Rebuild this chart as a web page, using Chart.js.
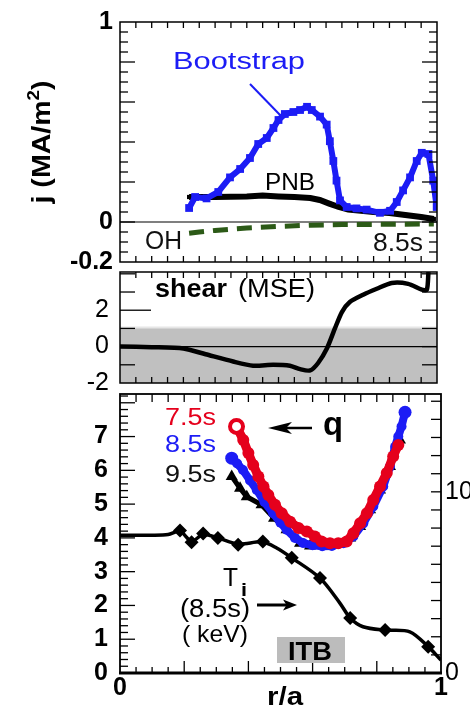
<!DOCTYPE html>
<html><head><meta charset="utf-8">
<script src="https://cdn.jsdelivr.net/npm/chart.js@4.4.0/dist/chart.umd.min.js"></script>
<style>
html,body{margin:0;padding:0;background:#fff;}
#wrap{position:relative;width:470px;height:705px;overflow:hidden;background:#fff;}
.pane{position:absolute;left:0;top:0;width:470px;height:705px;}
</style></head><body>
<div id="wrap">
<div class="pane"><canvas id="c3"></canvas></div>
<div class="pane"><canvas id="c2"></canvas></div>
<div class="pane"><canvas id="c1"></canvas></div>
</div>
<script>
// ---------- data ----------
// top panel: current density j (MA/m^2) vs r/a, 8.5 s
const bootR = [0.218,0.237,0.273,0.31,0.347,0.379,0.41,0.436,0.463,0.484,0.5,0.52,0.547,0.568,0.59,0.605,0.631,0.652,0.662,0.673,0.683,0.694,0.715,0.746,0.778,0.82,0.852,0.873,0.893,0.915,0.936,0.952,0.973,0.988,0.999];
const bootJ = [0.07,0.125,0.118,0.15,0.223,0.265,0.32,0.39,0.42,0.47,0.51,0.54,0.55,0.56,0.576,0.56,0.527,0.487,0.404,0.305,0.207,0.108,0.075,0.068,0.062,0.046,0.056,0.1,0.158,0.223,0.305,0.346,0.34,0.207,0.075];
const pnbR = [0.218,0.3,0.4,0.45,0.5,0.55,0.6,0.63,0.66,0.69,0.72,0.76,0.8,0.85,0.9,0.95,0.99];
const pnbJ = [0.125,0.125,0.128,0.132,0.128,0.125,0.12,0.11,0.092,0.075,0.062,0.056,0.05,0.045,0.035,0.025,0.015];
const ohR = [0.218,0.25,0.3,0.35,0.4,0.5,0.6,0.7,0.8,0.9,0.99];
const ohJ = [-0.056,-0.05,-0.042,-0.036,-0.03,-0.022,-0.016,-0.013,-0.012,-0.011,-0.01];
const jTicks = [-0.2, 0, 1];

// middle panel: magnetic shear (MSE)
const shearR = [0,0.1,0.2,0.27,0.357,0.42,0.483,0.536,0.568,0.6,0.625,0.653,0.678,0.70,0.725,0.767,0.81,0.857,0.909,0.952,0.968,0.973];
const shearV = [0,-0.03,-0.1,-0.42,-0.82,-1.05,-1.0,-1.05,-1.24,-1.31,-0.9,-0.09,1.0,1.9,2.45,2.85,3.18,3.5,3.45,3.13,3.13,4.1];
const bandR = [0, 1];
const bandTop = [1.05, 1.05];
const zeroR = [0, 1];
const zeroV = [0, 0];
const shearTicks = [-2, 0, 2];

// bottom panel: q profiles and Ti
const q75R = [0.363,0.384,0.400,0.415,0.431,0.447,0.462,0.483,0.504,0.530,0.556,0.582,0.607,0.628,0.654,0.680,0.706,0.727,0.748,0.769,0.789,0.810,0.831,0.851,0.867];
const q75V = [7.30,6.90,6.51,6.16,5.82,5.52,5.27,4.98,4.73,4.48,4.29,4.19,4.04,3.89,3.84,3.84,3.89,4.14,4.43,4.73,5.12,5.52,5.92,6.41,6.75];
const q85R = [0.348,0.365,0.383,0.405,0.426,0.45,0.477,0.50,0.519,0.545,0.57,0.60,0.63,0.66,0.696,0.727,0.758,0.789,0.820,0.841,0.857,0.867,0.877,0.888];
const q85V = [6.36,6.2,6.01,5.7,5.42,5.06,4.73,4.45,4.24,4.0,3.85,3.78,3.75,3.76,3.84,4.04,4.43,4.93,5.52,6.11,6.70,7.0,7.3,7.72];
const q95R = [0.348,0.374,0.395,0.441,0.48,0.519,0.561,0.592,0.654,0.717,0.748,0.779,0.81,0.841,0.872];
const q95V = [5.82,5.47,5.22,4.98,4.58,4.24,3.84,3.76,3.79,4.0,4.34,4.83,5.42,6.11,6.9];
const tiR = [0.187,0.223,0.259,0.305,0.368,0.445,0.535,0.623,0.717,0.826,0.96];
const tiV = [4.22,3.87,4.13,4.0,3.8,3.89,3.41,2.81,1.63,1.27,0.78];
const tiFitR = [0,0.1,0.15,0.187,0.223,0.259,0.305,0.368,0.445,0.488,0.535,0.623,0.685,0.717,0.757,0.826,0.903,0.96,1.0];
const tiFitV = [4.08,4.08,4.1,4.2,3.9,4.1,4.0,3.82,3.88,3.7,3.41,2.81,2.07,1.63,1.37,1.27,1.22,0.78,0.38];
const leftTicks = [0,1,2,3,4,5,6,7];
const rightTicks = [0,10];
const xTicks = [0,1];

// ---------- helpers ----------
const FONT = '"Liberation Sans", Arial, Helvetica, sans-serif';
const BLUE = '#1c1cf5', RED = '#e5001c', GREEN = '#2c5a17';
const pts = (xs, ys) => xs.map((x, i) => ({x, y: ys[i]}));

function line(ctx, x1, y1, x2, y2, w, c) {
  ctx.save(); ctx.strokeStyle = c || '#000'; ctx.lineWidth = w || 1;
  ctx.beginPath(); ctx.moveTo(x1, y1); ctx.lineTo(x2, y2); ctx.stroke(); ctx.restore();
}
function txt(ctx, s, x, y, font, color, w) {
  ctx.save(); ctx.font = font; ctx.fillStyle = color || '#000';
  ctx.textBaseline = 'alphabetic'; ctx.textAlign = 'left';
  const m = ctx.measureText(s).width; const sx = w ? w / m : 1;
  ctx.translate(x, y); ctx.scale(sx, 1); ctx.fillText(s, 0, 0); ctx.restore();
}
function arrowHead(ctx, tipX, tipY, dir, len, half) {
  ctx.save(); ctx.fillStyle = '#000'; ctx.beginPath();
  ctx.moveTo(tipX, tipY); ctx.lineTo(tipX - dir * len, tipY - half);
  ctx.lineTo(tipX - dir * len * 0.75, tipY); ctx.lineTo(tipX - dir * len, tipY + half);
  ctx.closePath(); ctx.fill(); ctx.restore();
}
function frame(ctx, a, w) {
  ctx.save(); ctx.strokeStyle = '#000'; ctx.lineWidth = w || 1.5;
  ctx.strokeRect(a.left, a.top, a.right - a.left, a.bottom - a.top); ctx.restore();
}
function xMarks(ctx, sx, a, step, len, longEvery, longLen, top, bottom) {
  const n = Math.round(1 / step);
  for (let i = 1; i < n; i++) {
    const px = sx.getPixelForValue(i * step);
    const L = (longEvery && i % longEvery === 0) ? longLen : len;
    if (top) line(ctx, px, a.top, px, a.top + L, 1.3);
    if (bottom) line(ctx, px, a.bottom, px, a.bottom - L, 1.3);
  }
}
function yMarks(ctx, sy, a, from, to, step, len, longFn, side) {
  const n = Math.round((to - from) / step);
  for (let i = 0; i <= n; i++) {
    const v = from + i * step;
    const py = sy.getPixelForValue(v);
    if (py <= a.top + 1 || py >= a.bottom - 1) continue;
    const L = longFn ? longFn(v, len) : len;
    if (side === 'left') line(ctx, a.left, py, a.left + L, py, 1.3);
    else line(ctx, a.right, py, a.right - L, py, 1.3);
  }
}
const near = (v, k) => Math.abs(v / k - Math.round(v / k)) < 1e-6;

function baseOpts(padding) {
  return {
    responsive: true, maintainAspectRatio: false, animation: false,
    devicePixelRatio: 1,
    layout: {padding},
    plugins: {legend: {display: false}, tooltip: {enabled: false}},
    elements: {line: {tension: 0}},
  };
}
function leftAxis(min, max, ticks, weight, pad, fmt) {
  return {
    type: 'linear', position: 'left', min, max,
    grid: {display: false, drawTicks: false}, border: {display: false},
    afterBuildTicks: s => { s.ticks = ticks.map(v => ({value: v})); },
    afterFit: s => { s.width = 120; },
    ticks: {font: {family: FONT, size: 25, weight}, color: '#000', padding: pad,
            autoSkip: false, callback: fmt || (v => String(v))}
  };
}

// ---------- top panel ----------
const topPlugin = {
  id: 'topDeco',
  beforeDatasetsDraw(chart) {
    const {ctx, chartArea: a, scales: {y}} = chart;
    line(ctx, a.left, y.getPixelForValue(0), a.right, y.getPixelForValue(0), 1.2);
  },
  afterDraw(chart) {
    const {ctx, chartArea: a, scales: {x, y}} = chart;
    frame(ctx, a, 1.5);
    xMarks(ctx, x, a, 0.05, 6, 0, 6, true, true);
    const lf = (v, L) => (near(v, 0.2) ? 15 : L);
    yMarks(ctx, y, a, -0.2, 1, 0.05, 8, lf, 'left');
    yMarks(ctx, y, a, -0.2, 1, 0.05, 8, lf, 'right');
    txt(ctx, 'Bootstrap', 173, 69, '23px ' + FONT, BLUE, 132);
    line(ctx, 250, 84, 281, 116, 2, BLUE);
    txt(ctx, 'PNB', 265, 190, '23px ' + FONT, '#000', 50);
    txt(ctx, 'OH', 145, 249, '25px ' + FONT, '#111', 37);
    txt(ctx, '8.5s', 373, 251, '26px ' + FONT, '#111', 50);
    // y title
    ctx.save();
    ctx.translate(50, 142); ctx.rotate(-Math.PI / 2);
    ctx.fillStyle = '#000'; ctx.textBaseline = 'alphabetic';
    ctx.font = 'bold 26px ' + FONT;
    const a1 = 'j (MA/m', a2 = '2', a3 = ')';
    const w1 = ctx.measureText(a1).width;
    ctx.font = 'bold 17px ' + FONT; const w2 = ctx.measureText(a2).width;
    ctx.font = 'bold 26px ' + FONT; const w3 = ctx.measureText(a3).width;
    const tot = w1 + w2 + w3; const sc = 123 / tot;
    ctx.scale(sc, 1);
    let xx = -tot / 2;
    ctx.fillText(a1, xx, 0); xx += w1;
    ctx.font = 'bold 17px ' + FONT; ctx.fillText(a2, xx, -11); xx += w2;
    ctx.font = 'bold 26px ' + FONT; ctx.fillText(a3, xx, 0);
    ctx.restore();
  }
};
new Chart(document.getElementById('c1'), {
  type: 'line',
  data: {datasets: [
    {label: 'Bootstrap', data: pts(bootR, bootJ), borderColor: BLUE, backgroundColor: BLUE,
     borderWidth: 6, pointStyle: 'rect', pointRadius: 5.5, pointBorderWidth: 0, order: 1},
    {label: 'PNB', data: pts(pnbR, pnbJ), borderColor: '#000', backgroundColor: '#000',
     borderWidth: 6, pointStyle: 'rect', pointRadius: 3, pointBorderWidth: 0, order: 2},
    {label: 'OH', data: pts(ohR, ohJ), borderColor: GREEN, borderWidth: 5,
     borderDash: [15, 9], pointRadius: 0, order: 3}
  ]},
  options: Object.assign(baseOpts({top: 19, right: 33, bottom: 443, left: 0}), {
    scales: {
      x: {type: 'linear', min: 0, max: 1, display: false},
      y: leftAxis(-0.2, 1, jTicks, 'bold', 7, v => (v === -0.2 ? '-0.2' : String(v)))
    }
  }),
  plugins: [topPlugin]
});

// ---------- middle panel ----------
const midPlugin = {
  id: 'midDeco',
  afterDraw(chart) {
    const {ctx, chartArea: a, scales: {x, y}} = chart;
    frame(ctx, a, 1.5);
    xMarks(ctx, x, a, 0.05, 6, 0, 6, true, true);
    yMarks(ctx, y, a, -2, 4, 1, 15, (v, L) => (v === 2 ? 31 : L), 'left');
    yMarks(ctx, y, a, -2, 4, 1, 15, null, 'right');
    txt(ctx, 'shear', 155, 297, 'bold 25px ' + FONT, '#000', 72);
    txt(ctx, '(MSE)', 238, 297, '25px ' + FONT, '#000', 77);
  }
};
new Chart(document.getElementById('c2'), {
  type: 'line',
  data: {datasets: [
    {label: 'shear', data: pts(shearR, shearV), borderColor: '#000', borderWidth: 4.5,
     pointRadius: 0, tension: 0.25, order: 1},
    {label: 'zero', data: pts(zeroR, zeroV), borderColor: '#000', borderWidth: 1.2,
     pointRadius: 0, order: 2},
    {label: 'band', data: pts(bandR, bandTop), borderColor: '#e6e6e6', borderWidth: 2,
     backgroundColor: '#c0c0c0', fill: 'start', pointRadius: 0, order: 3}
  ]},
  options: Object.assign(baseOpts({top: 272, right: 33, bottom: 322, left: 0}), {
    scales: {
      x: {type: 'linear', min: 0, max: 1, display: false},
      y: leftAxis(-2, 4.1, shearTicks, 'normal', 11)
    }
  }),
  plugins: [midPlugin]
});

// ---------- bottom panel ----------
const botPlugin = {
  id: 'botDeco',
  afterDraw(chart) {
    const {ctx, chartArea: a, scales: {x, y, y2}} = chart;
    frame(ctx, a, 1.8);
    line(ctx, a.left - 1, a.bottom, a.right + 1, a.bottom, 2.8);
    xMarks(ctx, x, a, 0.05, 8, 0, 8, true, false);
    xMarks(ctx, x, a, 0.05, 6, 4, 12, false, true);
    yMarks(ctx, y, a, 0, 8.2, 0.2, 8, (v, L) => (near(v, 1) ? 15 : L), 'left');
    yMarks(ctx, y2, a, 0, 15, 1, 10, null, 'right');
    txt(ctx, '7.5s', 165, 425, '24px ' + FONT, RED, 51);
    txt(ctx, '8.5s', 165, 452, '24px ' + FONT, BLUE, 51);
    txt(ctx, '9.5s', 165, 482, '24px ' + FONT, '#111', 51);
    // q arrow
    line(ctx, 286, 428, 312, 428, 2.5);
    arrowHead(ctx, 268, 428, -1, 24, 6);
    txt(ctx, 'q', 323, 435, 'bold 33px ' + FONT, '#000', 20);
    // Ti label
    txt(ctx, 'T', 223, 586, '25px ' + FONT, '#000', 15);
    txt(ctx, 'i', 241, 596, 'bold 18px ' + FONT, '#000', 6);
    txt(ctx, '(8.5s)', 180, 617, '26px ' + FONT, '#000', 70);
    line(ctx, 257, 605, 288, 605, 3);
    arrowHead(ctx, 297, 605, 1, 14, 5.5);
    txt(ctx, '( keV)', 182, 642, '24px ' + FONT, '#000', 66);
    // ITB box
    ctx.save(); ctx.fillStyle = '#bcbcbc'; ctx.fillRect(277, 637, 68, 26); ctx.restore();
    txt(ctx, 'ITB', 288, 660, 'bold 26px ' + FONT, '#000', 44);
    // x title (cut by page bottom)
    txt(ctx, 'r/a', 267, 705, 'bold 25px ' + FONT, '#000', 36);
  }
};
new Chart(document.getElementById('c3'), {
  type: 'line',
  data: {datasets: [
    {label: '7.5s', data: pts(q75R, q75V), borderColor: RED, borderWidth: 9,
     pointRadius: c => (c.dataIndex === 0 ? 6.5 : 6),
     pointBackgroundColor: c => (c.dataIndex === 0 ? '#fff' : RED),
     pointBorderColor: RED, pointBorderWidth: c => (c.dataIndex === 0 ? 4 : 0), order: 1},
    {label: '8.5s', data: pts(q85R, q85V), borderColor: BLUE, backgroundColor: BLUE,
     borderWidth: 8, pointRadius: c => (c.dataIndex === 0 || c.dataIndex === q85R.length - 1 ? 6.5 : 5),
     pointBorderWidth: 0, order: 2},
    {label: '9.5s', data: pts(q95R, q95V), borderColor: '#000', backgroundColor: '#000',
     borderWidth: 5, pointStyle: 'triangle', pointRadius: 7, pointBorderWidth: 0, order: 3},
    {label: 'Ti', data: pts(tiR, tiV), showLine: false, backgroundColor: '#000',
     pointStyle: 'rectRot', pointRadius: 7, pointBorderWidth: 0, order: 4},
    {label: 'Ti fit', data: pts(tiFitR, tiFitV), borderColor: '#000', borderWidth: 3.5,
     pointRadius: 0, tension: 0.3, order: 5}
  ]},
  options: Object.assign(baseOpts({top: 394, right: 0, bottom: 0, left: 0}), {
    scales: {
      x: {type: 'linear', min: 0, max: 1, position: 'bottom',
          grid: {display: false, drawTicks: false}, border: {display: false},
          afterBuildTicks: s => { s.ticks = xTicks.map(v => ({value: v})); },
          afterFit: s => { s.height = 32; },
          ticks: {font: {family: FONT, size: 25, weight: 'bold'}, color: '#000', padding: 0,
                  autoSkip: false, maxRotation: 0, callback: v => String(v)}},
      y: leftAxis(0, 8.26, leftTicks, 'bold', 12),
      y2: {type: 'linear', position: 'right', min: 0, max: 15.4,
           grid: {display: false, drawTicks: false}, border: {display: false},
           afterBuildTicks: s => { s.ticks = rightTicks.map(v => ({value: v})); },
           afterFit: s => { s.width = 29; },
           ticks: {font: {family: FONT, size: 25}, color: '#000', padding: 4,
                   autoSkip: false, callback: v => String(v)}}
    }
  }),
  plugins: [botPlugin]
});
</script>
</body></html>
